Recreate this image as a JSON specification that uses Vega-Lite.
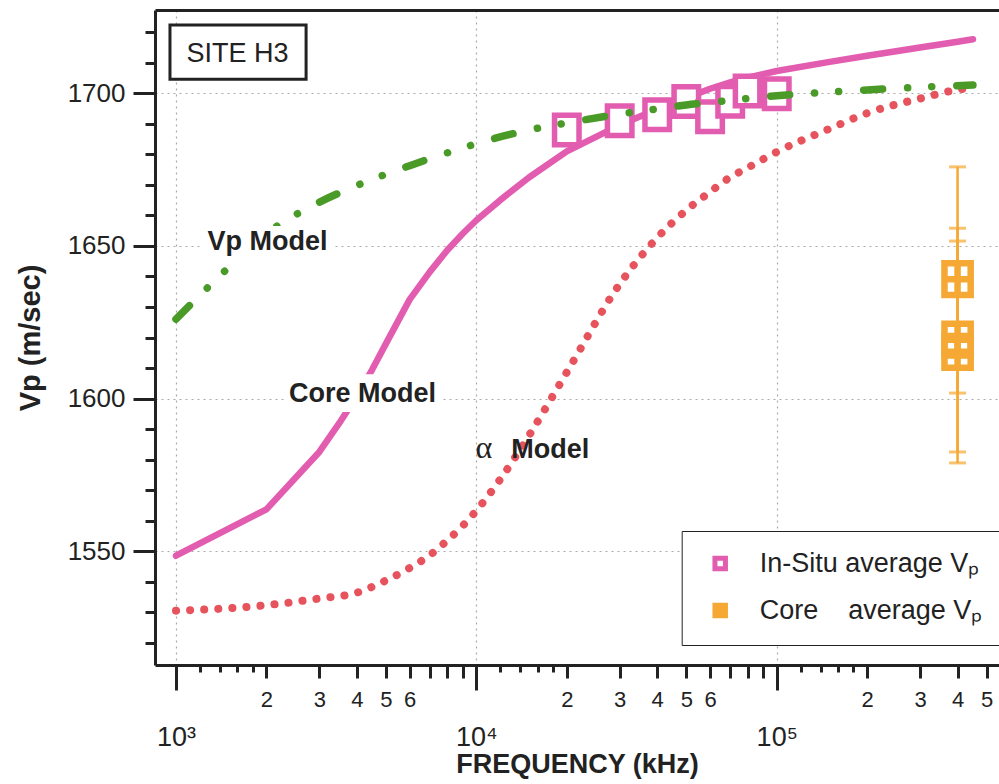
{
  "$schema": "https://vega.github.io/schema/vega-lite/v6.json",
  "width": 844,
  "height": 655,
  "autosize": {"type": "none"},
  "padding": {"left": 155, "top": 10, "right": 0, "bottom": 119},
  "background": "white",
  "config": {
    "view": {"stroke": null},
    "font": "Liberation Sans",
    "axis": {"labelFont": "Liberation Sans", "titleFont": "Liberation Sans", "labelColor": "#222", "titleColor": "#222", "tickColor": "#222", "domainColor": "#222"}
  },
  "datasets": {
    "curves": [
      {"model": "core", "f": 1000, "v": 1548.5}, {"model": "core", "f": 2000, "v": 1563.7}, {"model": "core", "f": 3000, "v": 1582.5},
      {"model": "core", "f": 3500, "v": 1592}, {"model": "core", "f": 4000, "v": 1600.8}, {"model": "core", "f": 4500, "v": 1609.5},
      {"model": "core", "f": 5000, "v": 1618}, {"model": "core", "f": 6000, "v": 1632.5}, {"model": "core", "f": 7000, "v": 1641.5},
      {"model": "core", "f": 8000, "v": 1648.6}, {"model": "core", "f": 9000, "v": 1654}, {"model": "core", "f": 10000, "v": 1658.4},
      {"model": "core", "f": 12000, "v": 1665}, {"model": "core", "f": 15000, "v": 1672.5}, {"model": "core", "f": 20000, "v": 1681},
      {"model": "core", "f": 30000, "v": 1689.6}, {"model": "core", "f": 40000, "v": 1694.8}, {"model": "core", "f": 50000, "v": 1698.5},
      {"model": "core", "f": 60000, "v": 1701.5}, {"model": "core", "f": 70000, "v": 1703.6}, {"model": "core", "f": 80000, "v": 1705.1},
      {"model": "core", "f": 90000, "v": 1706.3}, {"model": "core", "f": 100000, "v": 1707.3}, {"model": "core", "f": 150000, "v": 1710.3},
      {"model": "core", "f": 200000, "v": 1712.3}, {"model": "core", "f": 300000, "v": 1715}, {"model": "core", "f": 400000, "v": 1716.9},
      {"model": "core", "f": 450000, "v": 1717.7},
      {"model": "vp", "f": 1000, "v": 1626}, {"model": "vp", "f": 1500, "v": 1643}, {"model": "vp", "f": 2000, "v": 1654},
      {"model": "vp", "f": 3000, "v": 1664.3}, {"model": "vp", "f": 4000, "v": 1669.8}, {"model": "vp", "f": 5000, "v": 1673.5},
      {"model": "vp", "f": 6000, "v": 1676.3}, {"model": "vp", "f": 7000, "v": 1678.6}, {"model": "vp", "f": 8000, "v": 1680.5},
      {"model": "vp", "f": 9000, "v": 1682.1}, {"model": "vp", "f": 10000, "v": 1683.5}, {"model": "vp", "f": 15000, "v": 1688},
      {"model": "vp", "f": 20000, "v": 1690.3}, {"model": "vp", "f": 30000, "v": 1693.2}, {"model": "vp", "f": 40000, "v": 1694.9},
      {"model": "vp", "f": 50000, "v": 1696.2}, {"model": "vp", "f": 60000, "v": 1697}, {"model": "vp", "f": 70000, "v": 1697.7},
      {"model": "vp", "f": 80000, "v": 1698.3}, {"model": "vp", "f": 90000, "v": 1698.8}, {"model": "vp", "f": 100000, "v": 1699.2},
      {"model": "vp", "f": 200000, "v": 1701.1}, {"model": "vp", "f": 300000, "v": 1702}, {"model": "vp", "f": 450000, "v": 1702.7},
      {"model": "alpha", "f": 1000, "v": 1530.5}, {"model": "alpha", "f": 1500, "v": 1531.3}, {"model": "alpha", "f": 2000, "v": 1532.3},
      {"model": "alpha", "f": 3000, "v": 1534.5}, {"model": "alpha", "f": 4000, "v": 1536.4}, {"model": "alpha", "f": 5000, "v": 1540.4},
      {"model": "alpha", "f": 6000, "v": 1544.5}, {"model": "alpha", "f": 7000, "v": 1548.7}, {"model": "alpha", "f": 8000, "v": 1553.5},
      {"model": "alpha", "f": 9000, "v": 1558.3}, {"model": "alpha", "f": 10000, "v": 1563.3}, {"model": "alpha", "f": 12000, "v": 1573.5},
      {"model": "alpha", "f": 15000, "v": 1588}, {"model": "alpha", "f": 20000, "v": 1608.6}, {"model": "alpha", "f": 30000, "v": 1637.5},
      {"model": "alpha", "f": 40000, "v": 1652.7}, {"model": "alpha", "f": 50000, "v": 1661.7}, {"model": "alpha", "f": 60000, "v": 1667.7},
      {"model": "alpha", "f": 70000, "v": 1672.5}, {"model": "alpha", "f": 80000, "v": 1675.6}, {"model": "alpha", "f": 90000, "v": 1678.4},
      {"model": "alpha", "f": 100000, "v": 1680.8}, {"model": "alpha", "f": 150000, "v": 1688.4}, {"model": "alpha", "f": 200000, "v": 1693.5},
      {"model": "alpha", "f": 300000, "v": 1698.3}, {"model": "alpha", "f": 400000, "v": 1701.2}, {"model": "alpha", "f": 450000, "v": 1701.9}
    ],
    "insitu": [
      {"series": "In-Situ average V\u209a", "f": 20000, "v": 1688},
      {"series": "In-Situ average V\u209a", "f": 30000, "v": 1691},
      {"series": "In-Situ average V\u209a", "f": 40000, "v": 1693},
      {"series": "In-Situ average V\u209a", "f": 50000, "v": 1697.3},
      {"series": "In-Situ average V\u209a", "f": 60000, "v": 1692.3},
      {"series": "In-Situ average V\u209a", "f": 70000, "v": 1697.4},
      {"series": "In-Situ average V\u209a", "f": 80000, "v": 1700.8},
      {"series": "In-Situ average V\u209a", "f": 100000, "v": 1699.9}
    ],
    "core": [
      {"series": "Core\u00a0\u00a0\u00a0\u00a0average V\u209a", "f": 400000, "v": 1639.1, "lo": 1601.8, "hi": 1675.9},
      {"series": "Core\u00a0\u00a0\u00a0\u00a0average V\u209a", "f": 400000, "v": 1619.3, "lo": 1582.5, "hi": 1655.8},
      {"series": "Core\u00a0\u00a0\u00a0\u00a0average V\u209a", "f": 400000, "v": 1615.3, "lo": 1578.9, "hi": 1651.6}
    ],
    "labels": [
      {"text": "Vp Model", "f": 2017, "v": 1648.7},
      {"text": "Core Model", "f": 4180, "v": 1599.0},
      {"text": "Model", "f": 17630, "v": 1580.5},
      {"text": "\u03b1", "f": 10590, "v": 1580.5},
      {"text": "SITE H3", "f": 1603, "v": 1710.3}
    ],
    "boxes": [
      {"box": "site", "f1": 955, "f2": 2711, "v1": 1704.6, "v2": 1722.4},
      {"box": "vp", "f1": 1202, "f2": 3386, "v1": 1644.7, "v2": 1656.5},
      {"box": "core", "f1": 2307, "f2": 7574, "v1": 1595.6, "v2": 1608}
    ]
  },
  "layer": [
    {
      "data": {"name": "curves"},
      "transform": [{"filter": "datum.model === 'core'"}],
      "mark": {"type": "line", "color": "#e25cb0", "strokeWidth": 6.5, "strokeCap": "round", "strokeJoin": "round"},
      "encoding": {
        "x": {"field": "f", "type": "quantitative", "scale": {"type": "log", "domain": [851.4, 549500], "nice": false},
          "axis": {"orient": "bottom", "values": [1000, 10000, 100000],
            "labelExpr": "datum.value == 1000 ? '10\u00b3' : datum.value == 10000 ? '10\u2074' : '10\u2075'",
            "tickSize": 25, "tickWidth": 3, "domain": true, "domainWidth": 3,
            "labelFontSize": 27, "labelPadding": 34, "labelFlush": false, "labelOverlap": false,
            "grid": true, "gridColor": "#aaaaaa", "gridDash": [2, 4], "gridWidth": 1.2,
            "title": "FREQUENCY (kHz)", "titleFontSize": 27, "titleFontWeight": "bold", "titlePadding": 1}},
        "y": {"field": "v", "type": "quantitative", "scale": {"domain": [1512.7, 1727.3], "nice": false, "zero": false},
          "axis": {"orient": "left", "values": [1550, 1600, 1650, 1700], "format": "d",
            "tickSize": 22, "tickWidth": 3, "domain": true, "domainWidth": 3,
            "labelFontSize": 26, "labelPadding": 8,
            "grid": true, "gridColor": "#aaaaaa", "gridDash": [2, 4], "gridWidth": 1.2,
            "title": "Vp (m/sec)", "titleFontSize": 29, "titleFontWeight": "bold", "titlePadding": 22}}
      }
    },
    {
      "data": {"name": "curves"},
      "transform": [{"filter": "datum.model === 'alpha'"}],
      "mark": {"type": "line", "color": "#e6535c", "strokeWidth": 8, "strokeCap": "round", "strokeDash": [0.1, 14], "interpolate": "monotone"},
      "encoding": {
        "x": {"field": "f", "type": "quantitative", "scale": {"type": "log", "domain": [851.4, 549500], "nice": false}, "axis": null},
        "y": {"field": "v", "type": "quantitative", "scale": {"domain": [1512.7, 1727.3], "nice": false, "zero": false}, "axis": null}
      }
    },
    {
      "data": {"name": "insitu"},
      "mark": {"type": "point", "shape": "M-0.83,-1H0.83V1H-0.83Z", "size": 870, "filled": true, "strokeWidth": 5.5, "opacity": 1},
      "encoding": {
        "x": {"field": "f", "type": "quantitative", "scale": {"type": "log", "domain": [851.4, 549500], "nice": false},
          "axis": {"orient": "bottom",
            "values": [2000, 3000, 4000, 5000, 6000, 7000, 8000, 9000, 20000, 30000, 40000, 50000, 60000, 70000, 80000, 90000, 200000, 300000, 400000, 500000],
            "labelExpr": "toNumber(substring(toString(datum.value), 0, 1)) <= 6 ? substring(toString(datum.value), 0, 1) : ''",
            "tickSize": 13, "tickWidth": 3, "domain": false, "grid": false,
            "labelFontSize": 22, "labelPadding": 11, "labelFlush": false, "labelOverlap": false, "title": null}},
        "y": {"field": "v", "type": "quantitative", "scale": {"domain": [1512.7, 1727.3], "nice": false, "zero": false},
          "axis": {"orient": "left",
            "values": [1520, 1530, 1540, 1550, 1560, 1570, 1580, 1590, 1600, 1610, 1620, 1630, 1640, 1650, 1660, 1670, 1680, 1690, 1700, 1710, 1720],
            "tickSize": 10, "tickWidth": 3, "labels": false, "domain": false, "grid": false, "title": null}},
        "fill": {"field": "series", "type": "nominal",
          "scale": {"domain": ["In-Situ average V\u209a", "Core\u00a0\u00a0\u00a0\u00a0average V\u209a"], "range": ["#ffffff", "#f5a833"]},
          "legend": {"title": null, "orient": "none", "legendX": 526.7, "legendY": 521, "direction": "vertical",
            "symbolType": "square", "symbolSize": 110, "symbolStrokeWidth": 5, "symbolOffset": 6,
            "labelFontSize": 27, "labelColor": "#222", "labelOffset": 26, "labelLimit": 400,
            "rowPadding": 16, "padding": 19, "strokeColor": "#222", "fillColor": "white",
            "encode": {"legend": {"update": {"strokeWidth": {"value": 3}}}}}},
        "stroke": {"field": "series", "type": "nominal",
          "scale": {"domain": ["In-Situ average V\u209a", "Core\u00a0\u00a0\u00a0\u00a0average V\u209a"], "range": ["#e25cb0", "#f5a833"]},
          "legend": {"title": null, "orient": "none", "legendX": 526.7, "legendY": 521, "direction": "vertical",
            "symbolType": "square", "symbolSize": 110, "symbolStrokeWidth": 5, "symbolOffset": 6,
            "labelFontSize": 27, "labelColor": "#222", "labelOffset": 26, "labelLimit": 400,
            "rowPadding": 16, "padding": 19, "strokeColor": "#222", "fillColor": "white",
            "encode": {"legend": {"update": {"strokeWidth": {"value": 3}}}}}}
      }
    },
    {
      "data": {"name": "curves"},
      "transform": [{"filter": "datum.model === 'vp'"}],
      "mark": {"type": "line", "color": "#4a9a28", "strokeWidth": 7.5, "strokeCap": "round", "strokeDash": [19, 25, 0.1, 24, 0.1, 25], "interpolate": "monotone"},
      "encoding": {
        "x": {"field": "f", "type": "quantitative", "scale": {"type": "log", "domain": [851.4, 549500], "nice": false},
          "axis": {"orient": "top", "domain": true, "domainWidth": 3, "ticks": false, "labels": false, "grid": false, "title": null}},
        "y": {"field": "v", "type": "quantitative", "scale": {"domain": [1512.7, 1727.3], "nice": false, "zero": false}, "axis": null}
      }
    },
    {
      "data": {"name": "boxes"},
      "transform": [{"filter": "datum.box !== 'site'"}],
      "mark": {"type": "rect", "fill": "white", "stroke": null},
      "encoding": {
        "x": {"field": "f1", "type": "quantitative", "scale": {"type": "log", "domain": [851.4, 549500], "nice": false}, "axis": null},
        "x2": {"field": "f2"},
        "y": {"field": "v1", "type": "quantitative", "scale": {"domain": [1512.7, 1727.3], "nice": false, "zero": false}, "axis": null},
        "y2": {"field": "v2"}
      }
    },
    {
      "data": {"name": "boxes"},
      "transform": [{"filter": "datum.box === 'site'"}],
      "mark": {"type": "rect", "fill": "white", "stroke": "#222", "strokeWidth": 3},
      "encoding": {
        "x": {"field": "f1", "type": "quantitative", "scale": {"type": "log", "domain": [851.4, 549500], "nice": false}, "axis": null},
        "x2": {"field": "f2"},
        "y": {"field": "v1", "type": "quantitative", "scale": {"domain": [1512.7, 1727.3], "nice": false, "zero": false}, "axis": null},
        "y2": {"field": "v2"}
      }
    },
    {
      "data": {"name": "labels"},
      "transform": [{"filter": "indexof(['Vp Model', 'Core Model', 'Model'], datum.text) >= 0"}],
      "mark": {"type": "text", "fontWeight": "bold", "fontSize": 27, "color": "#222", "align": "center", "baseline": "alphabetic"},
      "encoding": {
        "x": {"field": "f", "type": "quantitative", "scale": {"type": "log", "domain": [851.4, 549500], "nice": false}, "axis": null},
        "y": {"field": "v", "type": "quantitative", "scale": {"domain": [1512.7, 1727.3], "nice": false, "zero": false}, "axis": null},
        "text": {"field": "text"}
      }
    },
    {
      "data": {"name": "labels"},
      "transform": [{"filter": "datum.text === '\u03b1'"}],
      "mark": {"type": "text", "font": "Liberation Serif", "fontSize": 32, "color": "#222", "align": "center", "baseline": "alphabetic"},
      "encoding": {
        "x": {"field": "f", "type": "quantitative", "scale": {"type": "log", "domain": [851.4, 549500], "nice": false}, "axis": null},
        "y": {"field": "v", "type": "quantitative", "scale": {"domain": [1512.7, 1727.3], "nice": false, "zero": false}, "axis": null},
        "text": {"field": "text"}
      }
    },
    {
      "data": {"name": "labels"},
      "transform": [{"filter": "datum.text === 'SITE H3'"}],
      "mark": {"type": "text", "fontSize": 27, "color": "#222", "align": "center", "baseline": "alphabetic"},
      "encoding": {
        "x": {"field": "f", "type": "quantitative", "scale": {"type": "log", "domain": [851.4, 549500], "nice": false}, "axis": null},
        "y": {"field": "v", "type": "quantitative", "scale": {"domain": [1512.7, 1727.3], "nice": false, "zero": false}, "axis": null},
        "text": {"field": "text"}
      }
    },
    {
      "data": {"name": "core"},
      "mark": {"type": "errorbar", "ticks": {"size": 17, "thickness": 3, "color": "#f5a833"}, "rule": {"strokeWidth": 2.5, "color": "#f5a833"}},
      "encoding": {
        "x": {"field": "f", "type": "quantitative", "scale": {"type": "log", "domain": [851.4, 549500], "nice": false}, "axis": null},
        "y": {"field": "lo", "type": "quantitative", "scale": {"domain": [1512.7, 1727.3], "nice": false, "zero": false}, "axis": null},
        "y2": {"field": "hi"}
      }
    },
    {
      "data": {"name": "core"},
      "mark": {"type": "point", "shape": "M-0.824,-1H0.824V1H-0.824Z M0,-1V1 M-0.824,0H0.824", "size": 1011, "filled": true, "fill": "transparent", "strokeWidth": 6.5, "opacity": 1},
      "encoding": {
        "x": {"field": "f", "type": "quantitative", "scale": {"type": "log", "domain": [851.4, 549500], "nice": false},
          "axis": {"orient": "bottom",
            "values": [1200, 1400, 1600, 1800, 12000, 14000, 16000, 18000, 120000, 140000, 160000, 180000],
            "tickSize": 7, "tickWidth": 3, "labels": false, "domain": false, "grid": false, "title": null}},
        "y": {"field": "v", "type": "quantitative", "scale": {"domain": [1512.7, 1727.3], "nice": false, "zero": false}, "axis": null},
        "stroke": {"field": "series", "type": "nominal",
          "scale": {"domain": ["In-Situ average V\u209a", "Core\u00a0\u00a0\u00a0\u00a0average V\u209a"], "range": ["#e25cb0", "#f5a833"]},
          "legend": {"title": null, "orient": "none", "legendX": 526.7, "legendY": 521, "direction": "vertical",
            "symbolType": "square", "symbolSize": 110, "symbolStrokeWidth": 5, "symbolOffset": 6,
            "labelFontSize": 27, "labelColor": "#222", "labelOffset": 26, "labelLimit": 400,
            "rowPadding": 16, "padding": 19, "strokeColor": "#222", "fillColor": "white",
            "encode": {"legend": {"update": {"strokeWidth": {"value": 3}}}}}}
      }
    }
  ],
  "resolve": {"axis": {"x": "independent", "y": "independent"}}
}
